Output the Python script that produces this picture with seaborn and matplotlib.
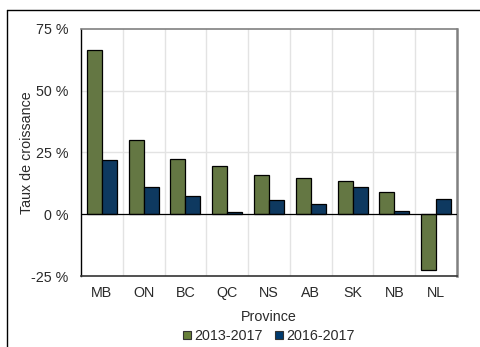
import matplotlib
matplotlib.use("Agg")
import matplotlib.pyplot as plt
import matplotlib.lines as mlines
import matplotlib.patches as mpatches
import seaborn as sns
import pandas as pd

provinces = ["MB", "ON", "BC", "QC", "NS", "AB", "SK", "NB", "NL"]
growth_2013_2017 = [66.4, 30.0, 22.4, 19.6, 15.7, 14.6, 13.6, 9.2, -22.4]
growth_2016_2017 = [21.9, 10.9, 7.2, 1.1, 5.8, 4.2, 10.9, 1.3, 6.1]
periods = ["2013-2017", "2016-2017"]
y_ticks = [-25, 0, 25, 50, 75]

colors = ["#67803A", "#003A6E"]

df = pd.DataFrame({
    "Province": provinces * 2,
    "Période": [periods[0]] * len(provinces) + [periods[1]] * len(provinces),
    "Taux": growth_2013_2017 + growth_2016_2017,
})

sns.set_theme(style="white")
plt.rcParams["font.family"] = ["Liberation Sans", "DejaVu Sans"]

fig = plt.figure(figsize=(4.8, 3.47), dpi=100)
ax_left, ax_right, ax_top, ax_bottom = 81, 457, 29, 276
ax = fig.add_axes([ax_left / 480, 1 - ax_bottom / 347,
                   (ax_right - ax_left) / 480, (ax_bottom - ax_top) / 347])

sns.barplot(data=df, x="Province", y="Taux", hue="Période", order=provinces,
            hue_order=periods, palette=colors, width=0.72, edgecolor="black",
            linewidth=0.9, ax=ax, legend=False, zorder=3)

text_color = "#2a2a2a"
fs = 10.3

ax.set_ylim(-25, 75)
ax.set_xlim(-0.5, len(provinces) - 0.5)
ax.set_yticks(y_ticks)
ax.set_yticklabels([f"{v} %" for v in y_ticks], fontsize=fs, color=text_color)
ax.tick_params(axis="x", labelsize=fs, length=0, pad=7, labelcolor=text_color)
ax.tick_params(axis="y", length=4, width=0.8, color="black", direction="out", pad=5)

# category separators and horizontal grid
for i in range(len(provinces) - 1):
    ax.axvline(i + 0.5, color="#e3e3e3", lw=1.0, zorder=0)
for v in [25, 50]:
    ax.axhline(v, color="#e3e3e3", lw=1.0, zorder=0)
ax.axhline(0, color="black", lw=0.9, zorder=4)

ax.set_xlabel("Province", fontsize=fs, color=text_color)
ax.set_ylabel("Taux de croissance", fontsize=fs, color=text_color)
ax.xaxis.set_label_coords(0.5, -(317 - ax_bottom) / (ax_bottom - ax_top), transform=ax.transAxes)
ax.xaxis.label.set_verticalalignment("center")
ax.yaxis.set_label_coords(-(ax_left - 27) / (ax_right - ax_left), 0.5, transform=ax.transAxes)
ax.yaxis.label.set_verticalalignment("center")

for side in ["top", "right"]:
    ax.spines[side].set_color("#808080")
ax.spines["top"].set_linewidth(1.2)
ax.spines["right"].set_linewidth(1.8)
ax.spines["left"].set_color("black")
ax.spines["left"].set_linewidth(1.0)
ax.spines["bottom"].set_color("#333333")
ax.spines["bottom"].set_linewidth(1.2)

handles = [mpatches.Patch(facecolor=c, edgecolor="#333333", lw=0.8, label=p)
           for c, p in zip(colors, periods)]
fig.legend(handles=handles, loc="center", bbox_to_anchor=(269 / 480, 1 - 336 / 347),
           ncol=2, frameon=False, fontsize=fs, handlelength=0.55, handleheight=0.55,
           handletextpad=0.2, columnspacing=0.9, borderaxespad=0, labelcolor=text_color)

# outer frame (top and left edges)
fig.add_artist(mlines.Line2D([7 / 480, 1.0], [1 - 10 / 347, 1 - 10 / 347],
                             color="black", lw=1.0, transform=fig.transFigure))
fig.add_artist(mlines.Line2D([7 / 480, 7 / 480], [0.0, 1 - 10 / 347],
                             color="black", lw=1.0, transform=fig.transFigure))

fig.savefig("out.png", dpi=100)
